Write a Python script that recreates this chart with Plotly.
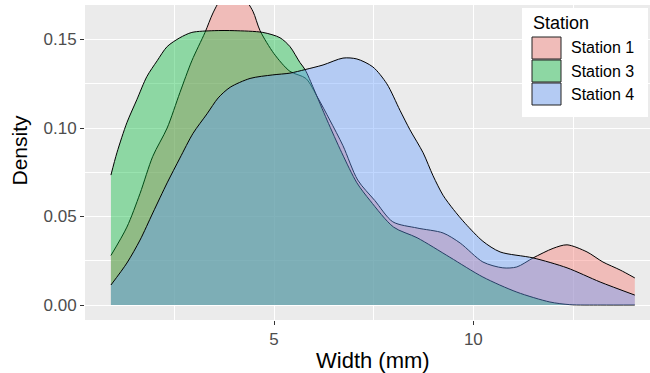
import plotly.graph_objects as go

# ---- data ----
stations = ["Station 1", "Station 3", "Station 4"]
fill_colors = ["rgba(248,118,109,0.4)", "rgba(0,186,56,0.4)", "rgba(97,156,255,0.4)"]
key_colors = ["rgb(240,188,185)", "rgb(141,215,163)", "rgb(180,203,243)"]

s1_x = [0.91, 1.31, 1.64, 1.96, 2.32, 2.64, 2.94, 3.27, 3.47, 3.7, 3.95, 4.2, 4.47, 4.65,
        5.0, 5.4, 5.8, 6.1, 6.4, 6.73, 7.1, 7.53, 7.98, 8.59, 9.24, 9.67, 10.24, 10.74,
        11.09, 11.5, 12.0, 12.35, 12.85, 13.25, 13.68, 14.05]
s1_y = [0.028, 0.044, 0.063, 0.084, 0.100, 0.120, 0.138, 0.154, 0.165, 0.174, 0.178, 0.175,
        0.166, 0.155, 0.142, 0.132, 0.128, 0.117, 0.1045, 0.090, 0.0706, 0.059, 0.047,
        0.0435, 0.0407, 0.035, 0.0243, 0.021, 0.0215, 0.0266, 0.032, 0.034, 0.030, 0.0243,
        0.0198, 0.0153]

s3_x = [0.91, 1.06, 1.31, 1.56, 1.81, 2.07, 2.32, 2.64, 2.94, 3.5, 4.0, 4.72, 5.15, 5.4,
        5.65, 5.78, 6.0, 6.33, 6.7, 7.08, 7.41, 8.0, 8.59, 9.41, 10.24, 11.09, 11.92,
        12.42, 13.2, 14.05]
s3_y = [0.0734, 0.086, 0.103, 0.116, 0.129, 0.138, 0.146, 0.151, 0.154, 0.155, 0.155,
        0.154, 0.151, 0.146, 0.137, 0.133, 0.122, 0.1045, 0.086, 0.069, 0.059, 0.044,
        0.038, 0.027, 0.0158, 0.0073, 0.0017, 0.0002, 0.0, 0.0]

s4_x = [0.91, 1.31, 1.64, 1.96, 2.32, 2.64, 2.97, 3.32, 3.6, 3.9, 4.4, 4.97, 5.4, 5.78,
        6.23, 6.73, 7.08, 7.48, 7.83, 8.16, 8.41, 8.74, 8.99, 9.24, 9.5, 9.8, 10.24, 10.67,
        11.5, 12.35, 13.18, 14.05]
s4_y = [0.0113, 0.0237, 0.0367, 0.052, 0.069, 0.083, 0.097, 0.108, 0.117, 0.123, 0.128,
        0.130, 0.131, 0.133, 0.1356, 0.1395, 0.139, 0.1345, 0.125, 0.110, 0.099, 0.086,
        0.073, 0.062, 0.054, 0.046, 0.036, 0.030, 0.0266, 0.021, 0.013, 0.0056]

series_x = [s1_x, s3_x, s4_x]
series_y = [s1_y, s3_y, s4_y]

x_ticks = [5, 10]
y_ticks = [0.0, 0.05, 0.10, 0.15]
y_tick_labels = ["0.00", "0.05", "0.10", "0.15"]

FONT = "Liberation Sans, Arial, sans-serif"

fig = go.Figure()
for name, xs, ys, fc in zip(stations, series_x, series_y, fill_colors):
    fig.add_trace(go.Scatter(
        x=xs, y=ys, name=name, mode="lines", fill="tozeroy", fillcolor=fc,
        line=dict(color="black", width=1, shape="spline", smoothing=0.8),
        showlegend=False, hoverinfo="skip"))

# geometry helpers (pixel -> paper)
L, R, T, B = 85, 0, 5, 53
W, H = 650, 373
PW, PH = W - L - R, H - T - B
def px(xp):
    return (xp - L) / PW
def py(yp):
    return (H - B - yp) / PH

shapes = []
annotations = []
# legend background
shapes.append(dict(type="rect", xref="paper", yref="paper", x0=px(522), x1=px(648),
                   y0=py(117), y1=py(8), fillcolor="white", line=dict(width=0), layer="above"))
annotations.append(dict(text="Station", xref="paper", yref="paper", x=px(531), y=py(22.5),
                        xanchor="left", yanchor="middle", showarrow=False,
                        font=dict(family=FONT, size=18, color="black")))
rows = [(37, 59), (60, 82), (83, 105)]
for name, kc, (ya, yb) in zip(stations, key_colors, rows):
    shapes.append(dict(type="rect", xref="paper", yref="paper", x0=px(532), x1=px(561),
                       y0=py(yb), y1=py(ya), fillcolor=kc,
                       line=dict(color="#222222", width=1), layer="above"))
    annotations.append(dict(text=name, xref="paper", yref="paper", x=px(569), y=py((ya + yb) / 2),
                            xanchor="left", yanchor="middle", showarrow=False,
                            font=dict(family=FONT, size=16, color="black")))
# axis titles
annotations.append(dict(text="Width (mm)", xref="paper", yref="paper", x=px(373), y=py(360),
                        xanchor="center", yanchor="middle", showarrow=False,
                        font=dict(family=FONT, size=22, color="black")))
annotations.append(dict(text="Density", xref="paper", yref="paper", x=px(19), y=py(150.5),
                        xanchor="center", yanchor="middle", showarrow=False, textangle=-90,
                        font=dict(family=FONT, size=21, color="black")))

fig.update_layout(
    width=W, height=H, margin=dict(l=L, r=R, t=T, b=B),
    paper_bgcolor="white", plot_bgcolor="#EBEBEB",
    font=dict(family=FONT),
    shapes=shapes, annotations=annotations, showlegend=False,
)
fig.update_xaxes(
    range=[0.2596, 14.431], tickvals=x_ticks, ticktext=[str(v) for v in x_ticks],
    showgrid=True, gridcolor="white", gridwidth=1.3, zeroline=False,
    ticks="outside", ticklen=4, tickwidth=1, tickcolor="#333333",
    tickfont=dict(family=FONT, size=17, color="#4D4D4D"),
    minor=dict(tickvals=[2.5, 7.5, 12.5], showgrid=True, gridcolor="white", gridwidth=0.6, ticks=""),
    showline=False,
)
fig.update_yaxes(
    range=[-0.00847, 0.16949], tickvals=y_ticks, ticktext=y_tick_labels,
    showgrid=True, gridcolor="white", gridwidth=1.3, zeroline=False,
    ticks="outside", ticklen=4, tickwidth=1, tickcolor="#333333",
    tickfont=dict(family=FONT, size=17, color="#4D4D4D"),
    minor=dict(tickvals=[0.025, 0.075, 0.125], showgrid=True, gridcolor="white", gridwidth=0.6, ticks=""),
    showline=False,
)

fig.write_html("out.html")
